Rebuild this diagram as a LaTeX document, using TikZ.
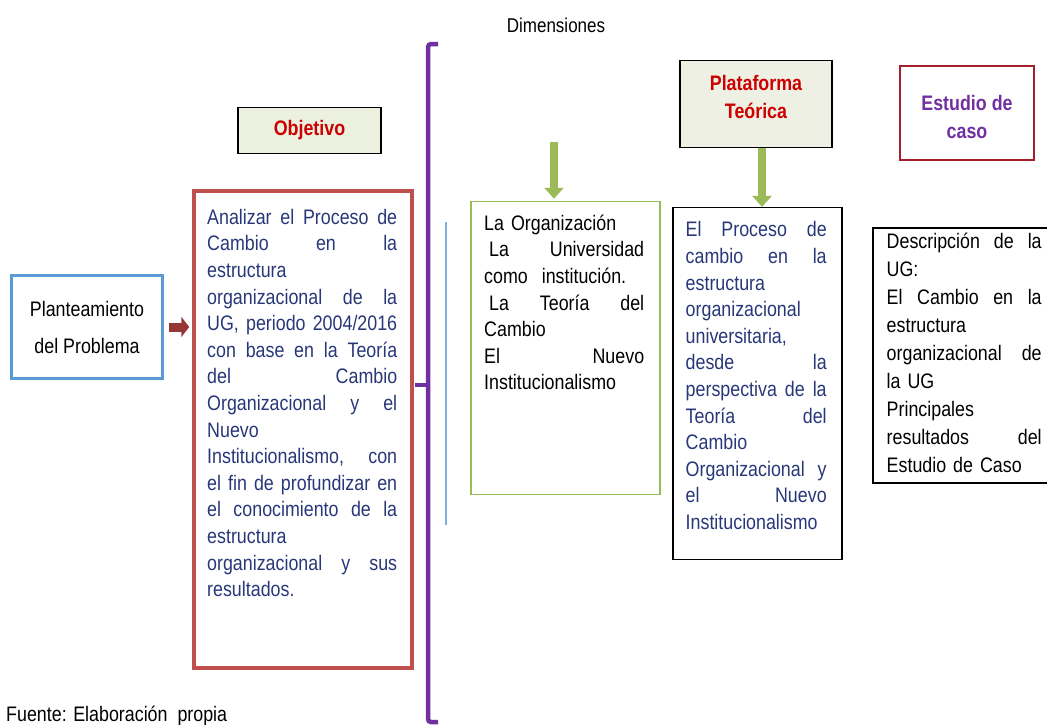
\documentclass[tikz,border=0pt]{standalone}
\usepackage{fontspec}
\setmainfont{Liberation Sans}[FakeStretch=0.85]
\usetikzlibrary{arrows.meta}

\definecolor{navytext}{RGB}{40,55,120}
\definecolor{headred}{RGB}{204,0,0}
\definecolor{framered}{RGB}{192,80,77}
\definecolor{casered}{RGB}{165,32,42}
\definecolor{planblue}{RGB}{91,155,213}
\definecolor{leafgreen}{RGB}{155,187,89}
\definecolor{bracepurple}{RGB}{112,48,160}
\definecolor{arrowred}{RGB}{149,55,53}
\definecolor{objfill}{RGB}{235,241,222}
\definecolor{platfill}{RGB}{238,240,227}

\newlength{\jw}
\newcommand{\spread}[1]{\leavevmode\hbox to\jw{#1}}
\newcommand{\firstline}{\rule{0pt}{20pt}}

\begin{document}
\begin{tikzpicture}[x=1pt, y=-1pt,
	frame/.style={draw, rectangle, inner sep=0pt},
	body/.style={font=\fontsize{21}{26.6}\selectfont, anchor=north west, inner sep=0pt, align=left},
	head/.style={font=\fontsize{21}{28}\selectfont\bfseries, align=center, inner sep=0pt},
	green arrow/.style={draw=leafgreen, line width=8pt, -{Triangle[width=19pt,length=11pt]}},
	brace/.style={draw=bracepurple, line width=4.5pt, rounded corners=3pt}]
	\useasboundingbox (0,0) rectangle (1047,724);
	
	%title of the dimensions
	\node[font=\fontsize{20}{24}\selectfont] (dimlabel) at (556,25) {Dimensiones};
	
	%problem statement
	\node[frame, draw=planblue, line width=3pt, minimum width=151pt, minimum height=103pt, font=\fontsize{21}{37}\selectfont, align=center] (plan) at (87,327) {Planteamiento\\del Problema};
	
	%objective, heading and text
	\node[frame, head, line width=1.2pt, fill=objfill, text=headred, minimum width=143pt, minimum height=46pt] (obj) at (309.5,130.3) {Objetivo};
	\node[frame, draw=framered, line width=3.5pt, minimum width=218pt, minimum height=477pt] (anal) at (303,429.5) {};
	\setlength{\jw}{190pt}
	\node[body, text=navytext, text width=190pt] (analtxt) at (207,204) {
		\spread{\firstline Analizar\hfill el\hfill Proceso\hfill de}\\
		\spread{Cambio\hfill en\hfill la}\\
		estructura\\
		\spread{organizacional\hfill de\hfill la}\\
		\spread{UG,\hfill periodo\hfill 2004/2016}\\
		\spread{con\hfill base\hfill en\hfill la\hfill Teoría}\\
		\spread{del\hfill Cambio}\\
		\spread{Organizacional\hfill y\hfill el}\\
		Nuevo\\
		\spread{Institucionalismo,\hfill con}\\
		\spread{el\hfill fin\hfill de\hfill profundizar\hfill en}\\
		\spread{el\hfill conocimiento\hfill de\hfill la}\\
		estructura\\
		\spread{organizacional\hfill y\hfill sus}\\
		resultados.};
	\draw[arrowred, line width=9pt, -{Triangle[width=20pt,length=8pt]}] ([xshift=5]plan.east) -- ([xshift=-3]plan.east -| anal.west);
	
	%bracket of the dimensions
	\draw[brace] (438,44) -- (428,44) -- (428,722) -- (438,722);
	\draw[brace] (428,385) -- (415,385);
	\draw[planblue!80, line width=1.5pt] (446,222) -- (446,525);
	
	%dimensions
	\node[frame, draw=leafgreen, line width=1.5pt, minimum width=189pt, minimum height=293pt] (org) at (565.5,348) {};
	\setlength{\jw}{160pt}
	\node[body, text width=160pt] (orgtxt) at (484,210) {
		\firstline La Organización\\
		\spread{\hspace*{5pt}La\hfill Universidad}\\
		como\ \ institución.\\
		\spread{\hspace*{5pt}La\hfill Teoría\hfill del}\\
		Cambio\\
		\spread{El\hfill Nuevo}\\
		Institucionalismo};
	\coordinate (dimarrow) at (554,142);
	\draw[green arrow, shorten >=2pt] (dimarrow) -- (dimarrow |- org.north);
	
	%theoretical platform
	\node[frame, line width=1.2pt, fill=platfill, minimum width=152pt, minimum height=87pt] (plat) at (756,104) {};
	\node[head, text=headred] (plattxt) at (756,97) {Plataforma\\Teórica};
	\node[frame, line width=1.2pt, minimum width=169pt, minimum height=352pt] (proc) at (757.5,383.5) {};
	\setlength{\jw}{141pt}
	\node[body, text=navytext, text width=141pt] (proctxt) at (685.5,216.7) {
		\spread{\firstline El\hfill Proceso\hfill de}\\
		\spread{cambio\hfill en\hfill la}\\
		estructura\\
		organizacional\\
		universitaria,\\
		\spread{desde\hfill la}\\
		\spread{perspectiva\hfill de\hfill la}\\
		\spread{Teoría\hfill del}\\
		Cambio\\
		\spread{Organizacional\hfill y}\\
		\spread{el\hfill Nuevo}\\
		Institucionalismo};
	\draw[green arrow] ([xshift=6]plat.south) -- ([xshift=6]plat.south |- proc.north);
	
	%case study
	\node[frame, draw=casered, line width=2pt, minimum width=134pt, minimum height=94pt] (est) at (967,113) {};
	\node[head, text=bracepurple] (esttxt) at (967,117) {Estudio de\\caso};
	\node[frame, line width=1.2pt, minimum width=179pt, minimum height=255pt] (casedesc) at (962.5,355.5) {};
	\setlength{\jw}{155pt}
	\node[body, font=\fontsize{21}{28}\selectfont, text width=155pt] (casetxt) at (886.5,228) {
		\spread{\firstline Descripción\hfill de\hfill la}\\
		UG:\\
		\spread{El\hfill Cambio\hfill en\hfill la}\\
		estructura\\
		\spread{organizacional\hfill de}\\
		la UG\\
		Principales\\
		\spread{resultados\hfill del}\\
		Estudio de Caso};
	
	%source
	\node[anchor=base west, inner sep=0pt, font=\fontsize{21}{26}\selectfont] (source) at (6,721) {Fuente: Elaboración~ propia};
\end{tikzpicture}
\end{document}
